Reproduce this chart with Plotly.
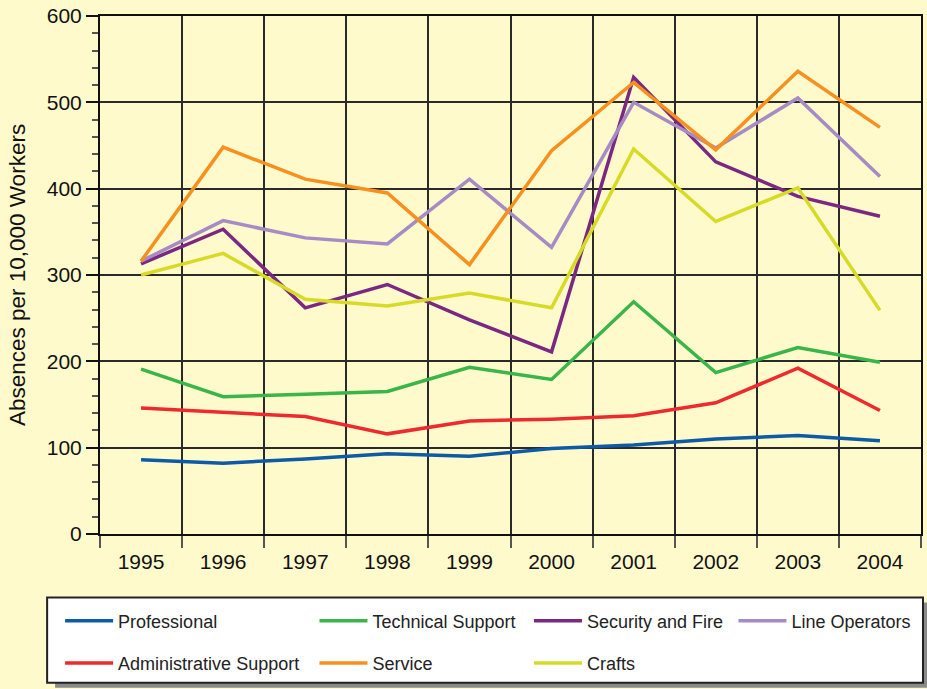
import plotly.graph_objects as go

years = ["1995", "1996", "1997", "1998", "1999", "2000", "2001", "2002", "2003", "2004"]

professional = [86, 82, 87, 93, 90, 99, 103, 110, 114, 108]
admin_support = [146, 141, 136, 116, 131, 133, 137, 152, 192, 143]
technical_support = [191, 159, 162, 165, 193, 179, 269, 187, 216, 199]
security_fire = [313, 353, 262, 289, 248, 211, 529, 431, 391, 368]
line_operators = [316, 363, 343, 336, 411, 332, 500, 447, 505, 414]
service = [316, 448, 411, 395, 312, 444, 523, 445, 536, 471]
crafts = [300, 325, 272, 264, 279, 262, 446, 362, 401, 259]

series = [
    ("Professional", professional, "#0D5AA7", "legend"),
    ("Technical Support", technical_support, "#39B54A", "legend2"),
    ("Security and Fire", security_fire, "#7A2882", "legend3"),
    ("Line Operators", line_operators, "#A68BC5", "legend4"),
    ("Administrative Support", admin_support, "#EE2A2F", "legend"),
    ("Service", service, "#F7901E", "legend2"),
    ("Crafts", crafts, "#D7DB27", "legend3"),
]

fig = go.Figure()
for i, (name, vals, color, lg) in enumerate(series):
    fig.add_trace(go.Scatter(
        x=years, y=vals, mode="lines", name=name,
        line=dict(color=color, width=3.5),
        legend=lg, legendgroup=f"g{i}",
    ))

bg = "#FFFACC"
FONT = "Liberation Sans, Arial, sans-serif"

# plot area geometry in pixels
L, R, T, B = 100, 4, 12, 155
W, H = 927 - L - R, 689 - T - B

def px_x(x):
    return (x - L) / W

def px_y(y):
    return (689 - B - y) / H

legend_common = dict(
    orientation="v", bgcolor="rgba(0,0,0,0)", borderwidth=0,
    font=dict(family=FONT, size=18, color="#222"),
    xanchor="left", yanchor="top", tracegroupgap=16, itemwidth=48,
)
lx = [60, 315, 530, 735]
layout_legends = {}
for k, name in enumerate(["legend", "legend2", "legend3", "legend4"]):
    layout_legends[name] = dict(legend_common, x=px_x(lx[k]), y=px_y(603))

fig.update_layout(
    width=927, height=689,
    margin=dict(l=L, r=R, t=T, b=B, pad=0),
    paper_bgcolor=bg, plot_bgcolor=bg,
    showlegend=True,
    font=dict(family=FONT, color="#111"),
    **layout_legends,
    xaxis=dict(
        type="category", range=[-0.5, 9.5], tickson="boundaries",
        showgrid=True, gridcolor="#2a2a2a", gridwidth=1.5,
        ticks="outside", ticklen=12, tickwidth=1.5, tickcolor="#555",
        showline=True, linecolor="#111", linewidth=2, mirror=True,
        tickfont=dict(family=FONT, size=21, color="#111"),
        ticklabelstandoff=8,
        zeroline=False,
    ),
    yaxis=dict(
        range=[0, 600], dtick=100, tick0=0,
        showgrid=True, gridcolor="#2a2a2a", gridwidth=1.5,
        ticks="outside", ticklen=12, tickwidth=1.5, tickcolor="#111",
        minor=dict(dtick=20, ticks="outside", ticklen=6, tickwidth=1.5, tickcolor="#555", showgrid=False),
        showline=True, linecolor="#111", linewidth=2, mirror=True,
        tickfont=dict(family=FONT, size=21, color="#111"),
        title=dict(text="Absences per 10,000 Workers", font=dict(family=FONT, size=22.5, color="#111"), standoff=15),
        zeroline=False,
    ),
    shapes=[
        dict(type="rect", xref="paper", yref="paper", layer="below",
             x0=px_x(55), x1=px_x(935), y0=px_y(603), y1=px_y(689),
             fillcolor="#8a8a8a", line=dict(width=0)),
        dict(type="rect", xref="paper", yref="paper", layer="below",
             x0=px_x(47), x1=px_x(925), y0=px_y(598), y1=px_y(684),
             fillcolor="white", line=dict(color="#222", width=2)),
    ],
)

fig.write_html(
    "out.html",
    config={"displayModeBar": False},
    post_script="document.body.style.margin='0';document.body.style.overflow='hidden';",
)
